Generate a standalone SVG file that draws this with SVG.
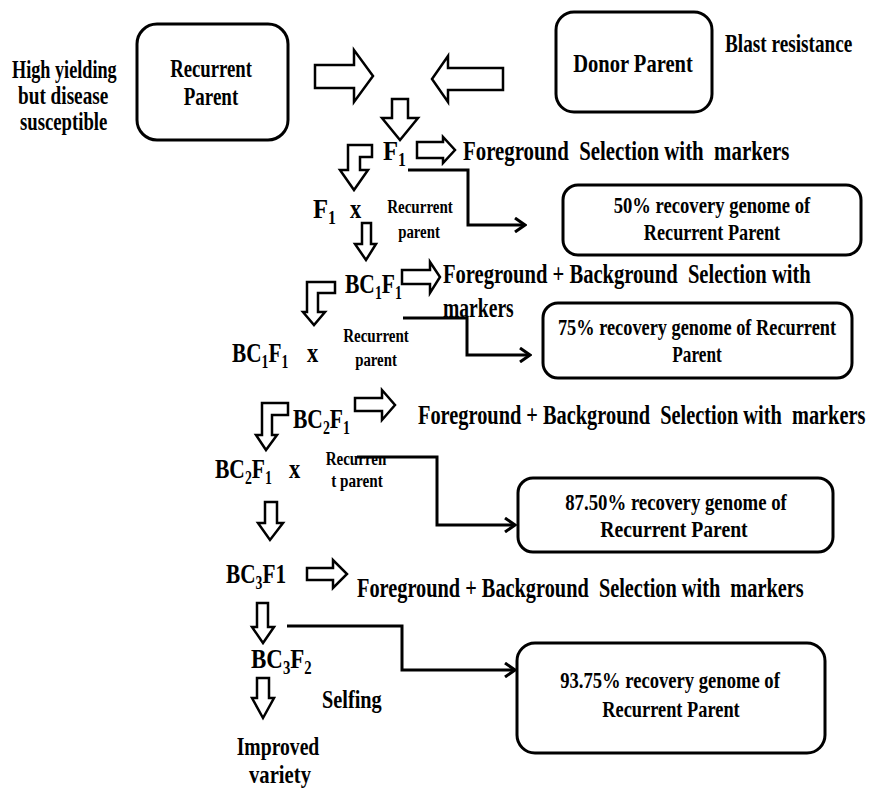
<svg xmlns="http://www.w3.org/2000/svg" width="870" height="790" viewBox="0 0 870 790">
<style>
text{font-family:"Liberation Serif","Times New Roman",serif;font-weight:bold;fill:#000}
.l{font-size:28px}
.m{font-size:26px}
.b{font-size:24px}
.s{font-size:18px}
.sub{font-size:18px}
.c{text-anchor:middle}
.box{fill:#fff;stroke:#000;stroke-width:3}
.blk{fill:#fff;stroke:#000;stroke-width:2.5;stroke-linejoin:miter}
.con{fill:none;stroke:#000;stroke-width:3;marker-end:url(#arr)}
</style>
<defs>
<marker id="arr" markerUnits="userSpaceOnUse" markerWidth="14" markerHeight="16" refX="12" refY="8" orient="auto">
<path d="M2,1 L12,8 L2,15" fill="none" stroke="#000" stroke-width="3"/>
</marker>
</defs>
<rect width="870" height="790" fill="#fff"/>

<g id="recurrent-parent">
<rect class="box" x="137" y="24" width="151" height="116" rx="20"/>
<text class="m c" transform="translate(211,77) scale(0.72,1)">Recurrent</text>
<text class="m c" transform="translate(211,105) scale(0.73,1)">Parent</text>
</g>
<g id="high-yielding">
<text class="m" transform="translate(12,78) scale(0.70,1)">High yielding</text>
<text class="m" transform="translate(18,104) scale(0.74,1)">but disease</text>
<text class="m" transform="translate(20,130) scale(0.72,1)">susceptible</text>
</g>
<g id="donor-parent">
<rect class="box" x="556" y="12" width="156" height="100" rx="18"/>
<text class="m c" transform="translate(633,72) scale(0.79,1)">Donor Parent</text>
</g>
<g id="blast-resistance">
<text class="m" transform="translate(725,52) scale(0.74,1)">Blast resistance</text>
</g>

<g id="block-arrows">
<polygon class="blk" points="315,65 354,65 354,50 373,76 354,102 354,88 315,88"/>
<polygon class="blk" points="503,68 448,68 448,56 432,79 448,102 448,90 503,90"/>
<polygon class="blk" points="392,99 408,99 408,118 418,118 400,140 382,118 392,118"/>
<polygon class="blk" points="372,145 348,145 348,170 340,170 354,190 368,170 360,170 360,157 372,157"/>
<polygon class="blk" points="417,142 443,142 443,137 455,150 443,163 443,158 417,158"/>
<polygon class="blk" points="362,223 371,223 371,244 376,244 366,260 355,244 362,244"/>
<polygon class="blk" points="335,282 307,282 307,312 303,312 314,325 325,312 318,312 318,293 335,293"/>
<polygon class="blk" points="402,270 430,270 430,262 440,277 430,293 430,284 402,284"/>
<polygon class="blk" points="288,403 262,403 262,435 256,435 266,450 277,435 272,435 272,415 288,415"/>
<polygon class="blk" points="355,398 382,398 382,390 395,405 382,420 382,411 355,411"/>
<polygon class="blk" points="265,502 277,502 277,523 283,523 270,540 258,523 265,523"/>
<polygon class="blk" points="307,568 333,568 333,560 347,574 333,588 333,580 307,580"/>
<polygon class="blk" points="257,603 268,603 268,627 274,627 263,643 252,627 257,627"/>
<polygon class="blk" points="257,678 269,678 269,698 274,698 263,718 252,698 257,698"/>
</g>

<g id="connectors">
<polyline class="con" points="408,170 468,170 468,225 525,225"/>
<polyline class="con" points="403,318 467,318 467,355 530,355"/>
<polyline class="con" points="357,457 437,457 437,525 515,525"/>
<polyline class="con" points="287,626 402,626 402,670 515,670"/>
</g>

<g id="f1">
<text class="l" transform="translate(383,160) scale(0.88,1)">F<tspan class="sub" dy="6">1</tspan></text>
</g>
<g id="sel1">
<text class="l" transform="translate(463,160) scale(0.745,1)" xml:space="preserve">Foreground  Selection with  markers</text>
</g>
<g id="f1-cross">
<text class="l" transform="translate(313,218) scale(0.88,1)">F<tspan class="sub" dy="6">1</tspan></text>
<text class="l" transform="translate(350,218) scale(0.8,1)">x</text>
<text class="s c" transform="translate(420,213) scale(0.836,1)">Recurrent</text>
<text class="s c" transform="translate(419,238) scale(0.824,1)">parent</text>
</g>
<g id="box50">
<rect class="box" x="563" y="185" width="298" height="70" rx="15"/>
<text class="b c" transform="translate(712,213) scale(0.776,1)">50% recovery genome of</text>
<text class="b c" transform="translate(712,240) scale(0.759,1)">Recurrent Parent</text>
</g>

<g id="bc1f1">
<text class="l" transform="translate(345,293) scale(0.77,1)">BC<tspan class="sub" dy="6">1</tspan><tspan dy="-6">F</tspan><tspan class="sub" dy="6">1</tspan></text>
</g>
<g id="sel2">
<text class="l" transform="translate(443,283) scale(0.735,1)" xml:space="preserve">Foreground + Background  Selection with</text>
<text class="l" transform="translate(443,317) scale(0.70,1)">markers</text>
</g>
<g id="bc1f1-cross">
<text class="l" transform="translate(232,362) scale(0.76,1)">BC<tspan class="sub" dy="6">1</tspan><tspan dy="-6">F</tspan><tspan class="sub" dy="6">1</tspan></text>
<text class="l" transform="translate(307,362) scale(0.8,1)">x</text>
<text class="s c" transform="translate(376,342) scale(0.836,1)">Recurrent</text>
<text class="s c" transform="translate(376,366) scale(0.824,1)">parent</text>
</g>
<g id="box75">
<rect class="box" x="543" y="303" width="309" height="75" rx="15"/>
<text class="b c" transform="translate(697,335) scale(0.764,1)">75% recovery genome of Recurrent</text>
<text class="b c" transform="translate(697,362) scale(0.72,1)">Parent</text>
</g>

<g id="bc2f1">
<text class="l" transform="translate(293,428) scale(0.77,1)">BC<tspan class="sub" dy="6">2</tspan><tspan dy="-6">F</tspan><tspan class="sub" dy="6">1</tspan></text>
</g>
<g id="sel3">
<text class="l" transform="translate(418,424) scale(0.727,1)" xml:space="preserve">Foreground + Background  Selection with  markers</text>
</g>
<g id="bc2f1-cross">
<text class="l" transform="translate(215,478) scale(0.77,1)">BC<tspan class="sub" dy="6">2</tspan><tspan dy="-6">F</tspan><tspan class="sub" dy="6">1</tspan></text>
<text class="l" transform="translate(289,478) scale(0.8,1)">x</text>
<text class="s c" transform="translate(356,465) scale(0.836,1)">Recurren</text>
<text class="s c" transform="translate(357,487) scale(0.845,1)">t parent</text>
</g>
<g id="box87">
<rect class="box" x="518" y="478" width="315" height="74" rx="15"/>
<text class="b c" transform="translate(676,510) scale(0.782,1)">87.50% recovery genome of</text>
<text class="b c" transform="translate(674,537) scale(0.82,1)">Recurrent Parent</text>
</g>

<g id="bc3f1">
<text class="l" transform="translate(226,583) scale(0.76,1)">BC<tspan class="sub" dy="6">3</tspan><tspan dy="-6">F1</tspan></text>
</g>
<g id="sel4">
<text class="l" transform="translate(357,597) scale(0.726,1)" xml:space="preserve">Foreground + Background  Selection with  markers</text>
</g>
<g id="bc3f2">
<text class="l" transform="translate(251,668) scale(0.82,1)">BC<tspan class="sub" dy="6">3</tspan><tspan dy="-6">F</tspan><tspan class="sub" dy="6">2</tspan></text>
</g>
<g id="selfing">
<text class="m" transform="translate(322,708) scale(0.78,1)">Selfing</text>
</g>
<g id="improved">
<text class="m c" transform="translate(278,755) scale(0.756,1)">Improved</text>
<text class="m c" transform="translate(280,783) scale(0.795,1)">variety</text>
</g>
<g id="box93">
<rect class="box" x="517" y="643" width="308" height="110" rx="18"/>
<text class="b c" transform="translate(670,688) scale(0.775,1)">93.75% recovery genome of</text>
<text class="b c" transform="translate(671,717) scale(0.765,1)">Recurrent Parent</text>
</g>
</svg>
